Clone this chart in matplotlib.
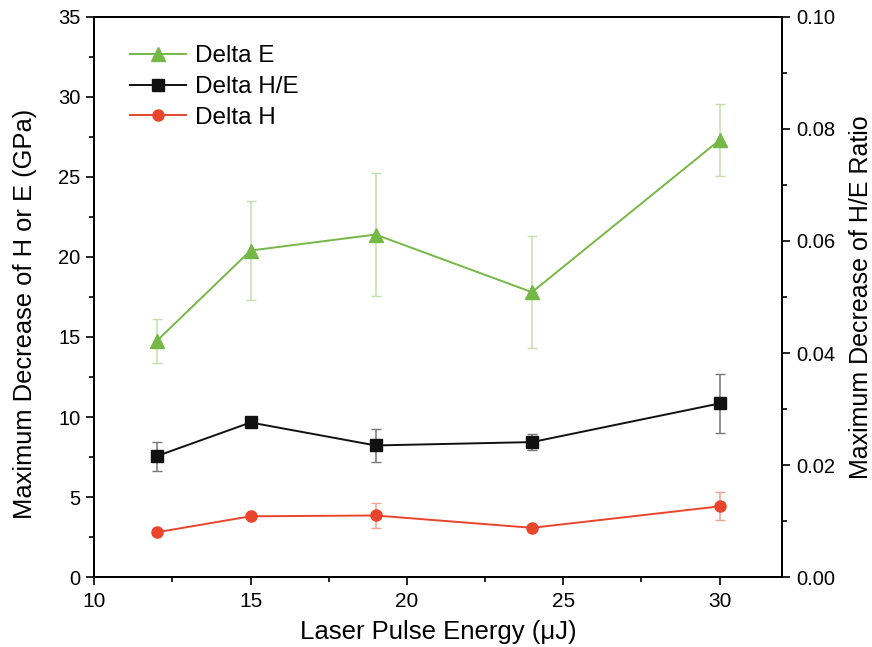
import matplotlib
matplotlib.use("Agg")
import matplotlib.pyplot as plt
from matplotlib.ticker import MultipleLocator
from matplotlib.lines import Line2D

plt.rcParams['font.family'] = ['Liberation Sans', 'DejaVu Sans']

energy = [12, 15, 19, 24, 30]

# Delta E (GPa), left axis
delta_e = [14.75, 20.4, 21.4, 17.8, 27.3]
delta_e_err = [1.4, 3.1, 3.85, 3.5, 2.25]

# Delta H (GPa), left axis
delta_h = [2.8, 3.8, 3.85, 3.08, 4.42]
delta_h_err = [0.1, 0.1, 0.8, 0.1, 0.87]

# Delta H/E ratio, right axis
delta_he = [0.0216, 0.0276, 0.0235, 0.0241, 0.0310]
delta_he_err = [0.0026, 0.0007, 0.0029, 0.0015, 0.0052]

green = '#76b847'
green_err = '#c3dfab'
red = '#e8452c'
red_err = '#f2a090'
black = '#111111'
black_err = '#777777'

fig = plt.figure(figsize=(8.72, 6.47), dpi=100)
ax = fig.add_axes([0.108, 0.108, 0.789, 0.866])
ax2 = ax.twinx()

ax.errorbar(energy, delta_e, yerr=delta_e_err, color=green, ecolor=green_err,
            marker='^', markersize=10, linewidth=1.4, capsize=3.5, elinewidth=1.1, zorder=3)
ax.errorbar(energy, delta_h, yerr=delta_h_err, color=red, ecolor=red_err,
            marker='o', markersize=8, linewidth=1.4, capsize=3.5, elinewidth=1.1, zorder=3)
ax2.errorbar(energy, delta_he, yerr=delta_he_err, color=black, ecolor=black_err,
             marker='s', markersize=8, linewidth=1.4, capsize=3.5, elinewidth=1.1, zorder=3)

ax.set_xlim(10, 32)
ax.set_ylim(0, 35)
ax2.set_ylim(0, 0.10)

ax.xaxis.set_major_locator(MultipleLocator(5))
ax.xaxis.set_minor_locator(MultipleLocator(2.5))
ax.yaxis.set_major_locator(MultipleLocator(5))
ax.yaxis.set_minor_locator(MultipleLocator(2.5))
ax2.yaxis.set_major_locator(MultipleLocator(0.02))
ax2.yaxis.set_minor_locator(MultipleLocator(0.01))
ax2.yaxis.set_major_formatter(plt.FuncFormatter(lambda v, p: f"{v:.2f}"))

for a in (ax, ax2):
    a.tick_params(which='major', direction='out', length=6, width=1.2, labelsize=14.5, pad=4)
    a.tick_params(which='minor', direction='out', length=3.5, width=1.2)
    for s in a.spines.values():
        s.set_linewidth(1.4)
ax.tick_params(axis='x', labelsize=15, pad=5)

ax.set_xlabel('Laser Pulse Energy (\u03bcJ)', fontsize=18.5, labelpad=6)
ax.set_ylabel('Maximum Decrease of H or E (GPa)', fontsize=18.4)
ax.yaxis.set_label_coords(-0.083, 0.47)
ax2.set_ylabel('Maximum Decrease of H/E Ratio', fontsize=18, labelpad=10)

handles = [
    Line2D([], [], color=green, marker='^', markersize=10, linewidth=1.4),
    Line2D([], [], color=black, marker='s', markersize=8, linewidth=1.4),
    Line2D([], [], color=red, marker='o', markersize=8, linewidth=1.4),
]
ax.legend(handles, ['Delta E', 'Delta H/E', 'Delta H'], loc='upper left',
          bbox_to_anchor=(0.02, 0.988), frameon=False, fontsize=17.5,
          handlelength=2.3, labelspacing=0.36, handletextpad=0.4)

fig.savefig('out.png', dpi=100)
